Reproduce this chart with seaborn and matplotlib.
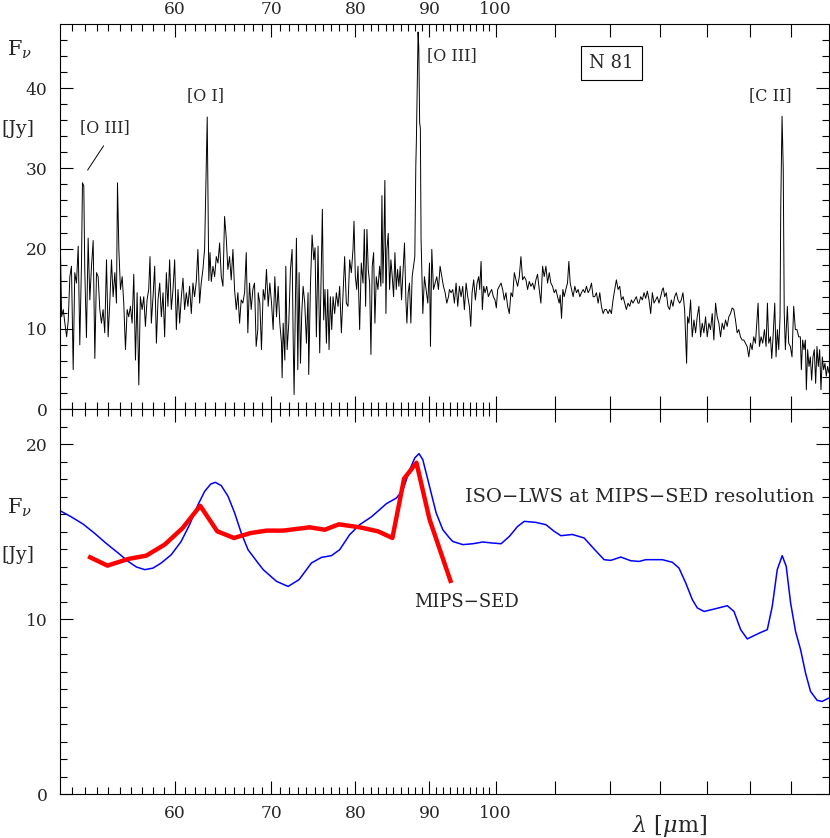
import matplotlib
matplotlib.use("Agg")
import matplotlib.pyplot as plt
import seaborn as sns
from matplotlib.ticker import FixedLocator, FixedFormatter, NullFormatter

sns.set_style("ticks")
plt.rcParams['font.family'] = ['DejaVu Serif', 'DejaVu Sans']
plt.rcParams['mathtext.fontset'] = 'dejavuserif'
plt.rcParams['axes.edgecolor'] = 'black'

# ---------------- data ----------------
# ISO-LWS spectrum, upper panel: wavelength [micron] and flux [Jy]
lws_wave = [
    50.00, 50.13, 50.26, 50.39, 50.53, 50.66, 50.79, 50.92, 51.06, 51.19,
    51.33, 51.47, 51.60, 51.74, 51.82, 51.93, 52.01, 52.15, 52.29, 52.43,
    52.57, 52.71, 52.85, 52.99, 53.13, 53.27, 53.41, 53.55, 53.69, 53.84,
    53.98, 54.12, 54.27, 54.41, 54.56, 54.70, 54.79, 54.91, 55.05, 55.20,
    55.34, 55.49, 55.64, 55.78, 55.93, 56.08, 56.23, 56.38, 56.53, 56.68,
    56.82, 56.98, 57.13, 57.28, 57.43, 57.58, 57.70, 57.82, 57.98, 58.13,
    58.29, 58.44, 58.60, 58.75, 58.91, 59.06, 59.22, 59.37, 59.53, 59.69,
    59.85, 60.01, 60.17, 60.33, 60.49, 60.65, 60.81, 60.97, 61.13, 61.29,
    61.45, 61.62, 61.78, 61.94, 62.11, 62.27, 62.44, 62.60, 62.77, 62.94,
    63.20, 63.36, 63.48, 63.61, 63.78, 63.95, 64.12, 64.29, 64.46, 64.63,
    64.80, 64.97, 65.14, 65.31, 65.49, 65.66, 65.84, 66.01, 66.19, 66.36,
    66.54, 66.71, 66.89, 67.07, 67.25, 67.42, 67.60, 67.78, 67.96, 68.14,
    68.32, 68.50, 68.54, 68.72, 68.90, 69.09, 69.27, 69.45, 69.64, 69.82,
    70.01, 70.19, 70.38, 70.57, 70.75, 70.94, 71.13, 71.20, 71.32, 71.51,
    71.62, 71.77, 71.96, 72.15, 72.34, 72.46, 72.57, 72.73, 72.84, 73.00,
    73.15, 73.31, 73.46, 73.62, 73.81, 74.01, 74.20, 74.28, 74.48, 74.68,
    74.88, 75.03, 75.19, 75.39, 75.59, 75.79, 75.91, 76.07, 76.23, 76.40,
    76.56, 76.72, 76.88, 77.05, 77.21, 77.41, 77.62, 77.83, 78.03, 78.24,
    78.44, 78.65, 78.86, 79.07, 79.28, 79.49, 79.70, 79.83, 80.00, 80.17,
    80.34, 80.55, 80.76, 80.98, 81.15, 81.32, 81.49, 81.66, 81.84, 82.01,
    82.18, 82.36, 82.53, 82.71, 82.93, 83.15, 83.32, 83.46, 83.59, 83.72,
    83.85, 83.99, 84.12, 84.30, 84.48, 84.66, 84.84, 85.02, 85.20, 85.38,
    85.56, 85.74, 85.92, 86.10, 86.29, 86.51, 86.70, 86.84, 87.02, 87.20,
    87.39, 87.57, 87.76, 87.94, 88.08, 88.16, 88.40, 88.50, 88.62, 88.72,
    88.82, 89.07, 89.30, 89.54, 89.78, 90.02, 90.16, 90.35, 90.59, 90.83,
    91.07, 91.31, 91.55, 91.80, 92.04, 92.29, 92.53, 92.78, 92.92, 93.17,
    93.42, 93.66, 93.91, 94.16, 94.41, 94.66, 94.91, 95.16, 95.42, 95.67,
    95.92, 96.13, 96.33, 96.58, 96.84, 97.10, 97.35, 97.51, 97.72, 97.92,
    98.13, 98.34, 98.60, 98.86, 99.12, 99.38, 99.65, 99.91, 100.12, 100.34,
    100.60, 100.87, 101.14, 101.40, 101.67, 101.94, 102.21, 102.48, 102.75, 103.03,
    103.30, 103.57, 103.85, 104.12, 104.40, 104.67, 104.95, 105.23, 105.51, 105.79,
    106.07, 106.35, 106.63, 106.91, 107.20, 107.48, 107.77, 108.05, 108.34, 108.63,
    108.92, 109.20, 109.49, 109.78, 110.07, 110.37, 110.66, 110.83, 111.07, 111.30,
    111.54, 111.83, 112.13, 112.37, 112.61, 112.85, 113.14, 113.44, 113.74, 114.04,
    114.35, 114.65, 114.96, 115.26, 115.56, 115.87, 116.18, 116.49, 116.79, 117.10,
    117.41, 117.73, 118.04, 118.35, 118.67, 118.98, 119.29, 119.61, 119.93, 120.24,
    120.56, 120.88, 121.20, 121.53, 121.85, 122.17, 122.50, 122.82, 123.14, 123.47,
    123.80, 124.13, 124.45, 124.78, 125.11, 125.45, 125.65, 125.98, 126.32, 126.65,
    126.99, 127.32, 127.66, 128.00, 128.34, 128.68, 129.02, 129.36, 129.70, 130.05,
    130.39, 130.60, 130.88, 131.22, 131.57, 131.92, 132.27, 132.62, 132.97, 133.32,
    133.68, 134.03, 134.39, 134.74, 135.10, 135.31, 135.53, 135.74, 136.03, 136.39,
    136.75, 137.12, 137.48, 137.84, 138.21, 138.58, 138.94, 139.31, 139.68, 140.05,
    140.42, 140.79, 141.17, 141.54, 141.92, 142.29, 142.67, 143.05, 143.43, 143.81,
    144.19, 144.57, 144.95, 145.34, 145.72, 146.11, 146.49, 146.88, 147.27, 147.66,
    148.05, 148.45, 148.84, 149.23, 149.63, 150.03, 150.42, 150.82, 151.22, 151.86,
    152.18, 152.59, 152.99, 153.40, 153.80, 154.13, 154.46, 154.87, 155.20, 155.52,
    155.94, 156.26, 156.60, 156.93, 157.26, 157.43, 157.76, 158.06, 158.31, 158.60,
    159.10, 159.44, 159.86, 160.28, 160.71, 161.14, 161.56, 161.99, 162.42, 162.68,
    163.02, 163.37, 163.72, 163.98, 164.32, 164.67, 165.02, 165.37, 165.72, 166.07,
    166.43, 166.78, 167.13, 167.49, 167.84, 168.20, 168.55, 168.91, 169.27, 169.63,
    170.00,
]
lws_flux = [
    23.0, 11.5, 12.4, 10.7, 9.0, 11.0, 16.5, 17.8, 4.9, 17.0,
    15.7, 20.3, 8.0, 18.2, 28.2, 27.8, 17.4, 8.9, 21.3, 13.6,
    17.8, 21.0, 6.3, 17.0, 16.5, 12.4, 10.7, 12.4, 9.5, 18.6,
    9.0, 13.2, 18.6, 14.0, 17.0, 13.2, 28.2, 19.9, 14.9, 16.5,
    13.2, 7.4, 12.4, 11.5, 12.8, 10.7, 16.8, 6.1, 14.5, 3.0,
    14.0, 12.4, 14.0, 10.3, 13.6, 14.9, 19.0, 10.7, 14.0, 17.8,
    8.2, 13.6, 15.7, 11.5, 14.5, 9.0, 17.0, 12.8, 18.6, 12.4,
    14.9, 18.6, 9.9, 14.9, 10.7, 14.0, 16.3, 12.4, 14.5, 12.8,
    15.3, 11.9, 15.7, 14.0, 15.9, 19.9, 13.2, 15.7, 17.4, 20.0,
    36.4, 16.0, 19.5, 15.9, 17.8, 16.5, 19.0, 18.2, 20.7, 16.5,
    15.3, 24.0, 21.4, 17.4, 19.0, 16.1, 19.9, 14.9, 12.4, 14.5,
    10.7, 13.6, 13.2, 14.5, 19.5, 9.5, 15.7, 12.4, 14.9, 15.7,
    7.8, 9.9, 14.5, 13.2, 7.4, 14.9, 13.6, 17.4, 12.8, 15.7,
    13.2, 9.9, 16.5, 11.5, 15.3, 10.7, 8.2, 3.9, 10.7, 6.1,
    17.8, 7.4, 10.7, 17.4, 19.9, 9.0, 1.8, 14.0, 21.3, 4.9,
    17.0, 5.7, 11.9, 15.3, 13.2, 8.2, 14.5, 4.3, 15.3, 21.7,
    18.6, 20.1, 9.0, 20.3, 7.0, 17.8, 24.9, 11.1, 14.9, 8.2,
    14.9, 7.4, 14.0, 9.9, 14.0, 11.9, 14.5, 12.8, 15.3, 9.5,
    14.0, 19.0, 13.2, 12.8, 18.6, 17.0, 19.9, 23.4, 16.5, 14.9,
    17.8, 9.9, 18.2, 15.7, 22.4, 12.8, 22.4, 17.4, 15.7, 6.8,
    17.8, 19.5, 10.7, 16.5, 14.9, 17.8, 15.3, 26.6, 15.7, 20.7,
    28.5, 11.9, 19.9, 21.9, 14.9, 18.6, 16.5, 14.0, 19.5, 14.9,
    17.4, 15.3, 17.8, 13.6, 17.0, 20.7, 13.6, 10.7, 14.5, 15.7,
    10.7, 16.5, 17.8, 19.0, 30.3, 33.4, 47.0, 45.0, 35.7, 35.0,
    21.3, 11.9, 16.5, 14.9, 13.2, 18.2, 7.8, 19.9, 14.9, 15.7,
    16.5, 14.9, 17.8, 16.5, 15.3, 14.5, 13.2, 14.0, 14.9, 14.5,
    14.9, 13.2, 15.7, 12.8, 15.3, 14.0, 15.3, 12.4, 15.7, 14.0,
    12.8, 10.3, 14.5, 16.1, 13.6, 15.7, 16.5, 14.9, 18.4, 12.4,
    15.3, 14.5, 15.3, 14.0, 14.5, 14.9, 14.0, 13.6, 12.6, 14.9,
    15.3, 15.7, 14.9, 13.6, 14.5, 12.8, 11.9, 14.5, 14.0, 17.0,
    16.1, 15.3, 16.5, 19.0, 16.1, 16.5, 16.1, 14.9, 15.9, 15.3,
    15.7, 14.9, 16.1, 16.8, 14.9, 13.2, 17.8, 16.5, 17.8, 15.7,
    17.0, 15.7, 15.3, 14.5, 14.9, 14.0, 13.2, 14.2, 11.3, 14.9,
    14.0, 14.9, 15.7, 18.4, 15.7, 14.9, 14.0, 15.3, 14.5, 14.9,
    14.0, 14.5, 14.9, 14.5, 15.3, 14.5, 14.9, 15.7, 14.0, 14.0,
    14.5, 13.2, 14.5, 12.8, 11.9, 12.4, 12.4, 11.9, 12.4, 11.9,
    13.6, 14.9, 16.1, 14.9, 15.3, 13.6, 14.0, 13.2, 12.4, 13.2,
    12.8, 13.6, 13.2, 13.6, 14.0, 13.2, 13.2, 14.0, 13.6, 14.5,
    13.8, 14.7, 13.6, 11.9, 14.5, 13.2, 13.6, 14.0, 13.2, 14.0,
    14.9, 15.1, 14.0, 14.5, 12.8, 12.4, 13.6, 12.8, 14.0, 14.5,
    13.6, 13.2, 13.6, 14.5, 12.4, 9.0, 5.7, 11.5, 10.7, 13.6,
    9.0, 11.1, 9.5, 11.5, 12.8, 9.0, 10.7, 9.5, 11.5, 9.0,
    10.7, 9.9, 11.9, 8.6, 13.2, 11.5, 10.7, 9.0, 10.7, 9.9,
    11.1, 10.3, 11.5, 11.9, 12.6, 12.4, 11.1, 9.5, 9.9, 9.0,
    8.6, 8.6, 8.2, 7.8, 6.5, 8.2, 7.4, 9.0, 8.2, 13.2,
    7.8, 9.0, 8.2, 9.9, 7.8, 13.2, 8.2, 9.0, 6.3, 9.0,
    13.2, 6.5, 9.9, 7.4, 11.5, 25.0, 36.5, 30.0, 12.0, 7.4,
    12.8, 8.2, 7.8, 6.5, 12.8, 9.9, 9.9, 9.0, 9.0, 4.9,
    8.6, 7.4, 8.6, 2.4, 7.4, 5.3, 6.5, 3.6, 6.5, 7.4,
    3.2, 7.8, 5.3, 7.4, 2.4, 6.5, 4.9, 5.7, 4.1, 5.3,
    4.5,
]

# ISO-LWS degraded to MIPS-SED resolution (lower panel, blue)
smooth_wave = [
    50.00, 50.92, 51.86, 52.81, 53.78, 54.85, 55.73, 56.47, 57.23, 57.98,
    58.74, 59.68, 60.63, 61.45, 62.28, 62.94, 63.55, 64.02, 64.63, 65.33,
    66.02, 66.72, 67.44, 68.52, 69.09, 70.57, 71.88, 73.15, 74.60, 75.79,
    77.01, 78.03, 79.28, 80.55, 82.05, 83.16, 84.05, 85.40, 86.31, 87.23,
    87.93, 88.53, 89.07, 90.02, 90.98, 91.95, 92.93, 93.42, 94.92, 96.44,
    97.98, 99.54, 100.88, 102.22, 103.57, 104.68, 106.63, 108.34, 109.78, 110.95,
    113.00, 115.13, 116.98, 118.85, 120.12, 122.05, 124.00, 125.66, 127.00, 130.40,
    132.50, 133.90, 135.34, 136.78, 137.87, 139.35, 141.94, 144.60, 146.15, 147.71,
    149.27, 150.87, 152.48, 154.10, 155.32, 156.56, 157.80, 158.81, 159.93, 161.19,
    162.48, 163.77, 165.08, 166.83, 168.16, 170.00,
]
smooth_flux = [
    16.19, 15.83, 15.43, 14.91, 14.34, 13.77, 13.29, 12.97, 12.82, 12.91,
    13.20, 13.67, 14.43, 15.39, 16.53, 17.29, 17.71, 17.81, 17.62, 17.01,
    16.06, 14.91, 13.96, 13.20, 12.82, 12.15, 11.86, 12.25, 13.20, 13.52,
    13.62, 13.96, 14.82, 15.39, 15.83, 16.25, 16.59, 16.91, 17.39, 18.53,
    19.20, 19.45, 19.10, 17.58, 16.06, 15.10, 14.63, 14.43, 14.25, 14.30,
    14.40, 14.34, 14.30, 14.72, 15.29, 15.58, 15.52, 15.39, 15.01, 14.76,
    14.83, 14.63, 14.00, 13.39, 13.35, 13.54, 13.33, 13.29, 13.39, 13.39,
    13.24, 12.91, 12.06, 11.10, 10.63, 10.43, 10.59, 10.76, 10.43, 9.39,
    8.86, 9.05, 9.23, 9.39, 10.72, 12.82, 13.62, 13.01, 10.91, 9.29,
    8.25, 6.91, 5.86, 5.35, 5.29, 5.49,
]

# MIPS-SED spectrum (lower panel, red)
mips_wave = [52.29, 53.92, 55.73, 57.36, 59.06, 60.78, 62.50, 64.22, 65.95, 67.70,
             69.46, 71.31, 74.40, 76.19, 77.94, 80.55, 82.94, 84.86, 86.45, 88.17,
             90.02, 93.18]
mips_flux = [13.58, 13.05, 13.43, 13.62, 14.25, 15.20, 16.47, 15.01, 14.63, 14.91,
             15.05, 15.05, 15.24, 15.10, 15.41, 15.24, 15.01, 14.63, 18.02, 18.93,
             15.70, 12.06]

major_ticks = [60, 70, 80, 90, 100, 110, 120, 130, 140, 150, 160]
major_labels = ['60', '70', '80', '90', '100', '', '', '', '', '', '']
minor_ticks = [t for t in range(51, 100) if t % 10 != 0]

# ---------------- figure ----------------
W, H = 830, 838
fig = plt.figure(figsize=(W / 100, H / 100), dpi=100)
left = 60 / W
right = 829 / W
ax1 = fig.add_axes([left, 1 - 409 / H, right - left, (409 - 24) / H])
ax2 = fig.add_axes([left, 1 - 794 / H, right - left, (794 - 409) / H])

sns.lineplot(x=lws_wave, y=lws_flux, ax=ax1, color='black', lw=0.7,
             estimator=None, sort=False)
sns.lineplot(x=smooth_wave, y=smooth_flux, ax=ax2, color='#0000ff', lw=1.1,
             estimator=None, sort=False)
sns.lineplot(x=mips_wave, y=mips_flux, ax=ax2, color='#ff0000', lw=3.2,
             estimator=None, sort=False)
for ln in ax2.get_lines():
    ln.set_solid_joinstyle('round')
    ln.set_solid_capstyle('butt')


def style(ax, ymax, ymajor, yminor, top_labels):
    ax.set_xscale('log')
    ax.set_xlim(50, 170)
    ax.set_ylim(0, ymax)
    ax.xaxis.set_major_locator(FixedLocator(major_ticks))
    ax.xaxis.set_major_formatter(FixedFormatter(major_labels))
    ax.xaxis.set_minor_locator(FixedLocator(minor_ticks))
    ax.xaxis.set_minor_formatter(NullFormatter())
    ax.yaxis.set_major_locator(FixedLocator(ymajor))
    ax.yaxis.set_minor_locator(FixedLocator(yminor))
    ax.tick_params(which='both', direction='in', top=True, right=True,
                   bottom=True, left=True, width=0.8, color='black')
    ax.tick_params(which='major', length=9.5)
    ax.tick_params(which='minor', length=5)
    ax.tick_params(axis='x', which='major', labelsize=12.3,
                   pad=4 if top_labels else 8,
                   labeltop=top_labels, labelbottom=not top_labels)
    ax.tick_params(axis='y', which='major', labelsize=12.3, pad=9)
    for s in ax.spines.values():
        s.set_linewidth(0.8)
        s.set_color('black')
        s.set_visible(True)
    ax.set_xlabel('')
    ax.set_ylabel('')


style(ax1, 48, [0, 10, 20, 30, 40], [v for v in range(2, 48, 2) if v % 10], True)
style(ax2, 22, [0, 10, 20], [v for v in range(1, 22) if v % 10], False)

# annotations, upper panel
ax1.text(53.72, 35.1, '[O III]', ha='center', va='center', fontsize=11.5)
ax1.annotate('', xy=(52.12, 29.5), xytext=(53.72, 33.1),
             arrowprops=dict(arrowstyle='-', lw=0.7, color='black'))
ax1.text(63.07, 39.1, '[O I]', ha='center', va='center', fontsize=11.5)
ax1.text(93.22, 44.1, '[O III]', ha='center', va='center', fontsize=11.5)
ax1.text(154.95, 39.1, '[C II]', ha='center', va='center', fontsize=11.5)
ax1.text(120.2, 43.1, 'N 81', ha='center', va='center', fontsize=13,
         bbox=dict(boxstyle='square,pad=0.45', fc='white', ec='black', lw=0.8))

# annotations, lower panel
ax2.text(125.85, 16.99, 'ISO\u2212LWS at MIPS\u2212SED resolution',
         ha='center', va='center', fontsize=14)
ax2.text(95.47, 10.99, 'MIPS\u2212SED', ha='center', va='center', fontsize=13)

# axis labels
fig.text(20 / W, 1 - 50 / H, r'F$_\nu$', ha='center', va='center', fontsize=15)
fig.text(18 / W, 1 - 129 / H, '[Jy]', ha='center', va='center', fontsize=13.5)
fig.text(20 / W, 1 - 508 / H, r'F$_\nu$', ha='center', va='center', fontsize=15)
fig.text(18 / W, 1 - 555 / H, '[Jy]', ha='center', va='center', fontsize=13.5)
fig.text(670 / W, 1 - 826 / H, r'$\lambda$ [$\mu$m]', ha='center', va='center',
         fontsize=16)

fig.savefig('out.png', dpi=100)
